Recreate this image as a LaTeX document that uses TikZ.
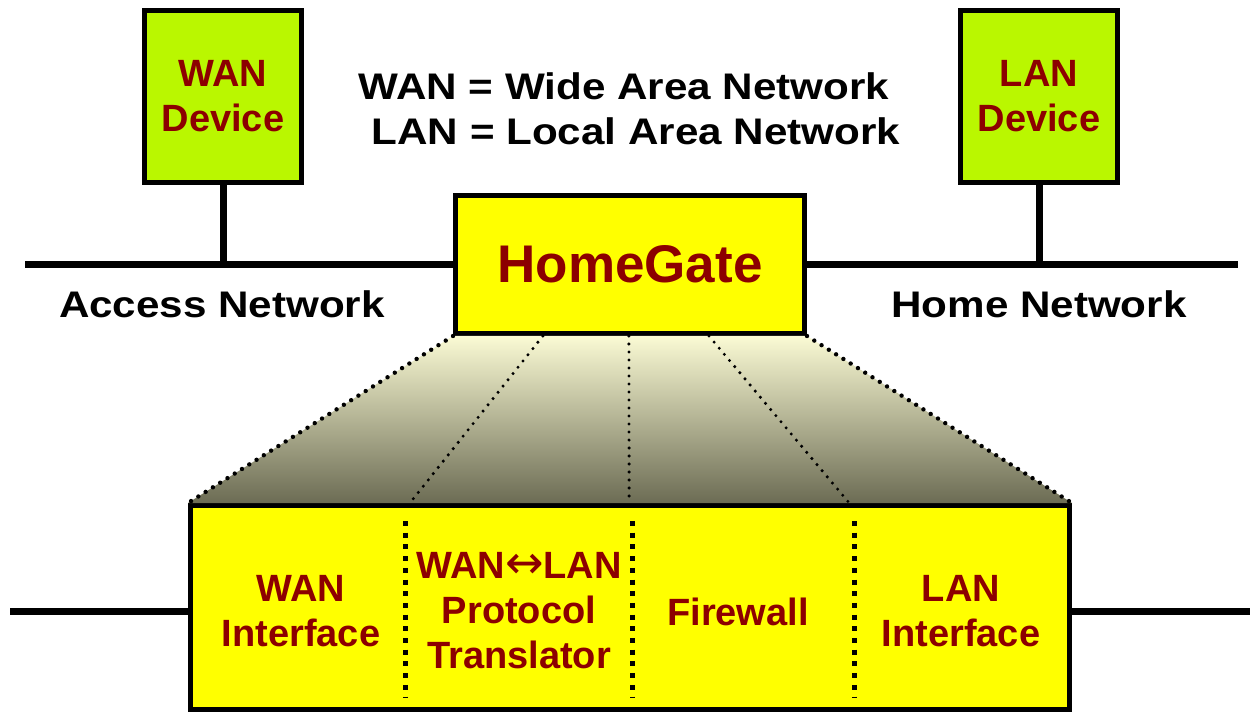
\documentclass[tikz,border=0pt]{standalone}
\usepackage{fontspec}
\setmainfont{Liberation Sans}
\newfontfamily\widesans{Liberation Sans}[FakeStretch=1.14]
\newfontfamily\arrowfont{DejaVu Sans}
\usetikzlibrary{calc}
\definecolor{devlime}{RGB}{186,247,0}
\definecolor{gateyellow}{RGB}{255,255,0}
\definecolor{labelred}{RGB}{140,0,0}
\definecolor{fantop}{RGB}{250,250,212}
\definecolor{fanbottom}{RGB}{108,108,84}
\begin{document}
\begin{tikzpicture}[x=1pt,y=-1pt,
  box/.style={draw=black, line width=5pt, inner sep=0pt},
  bigfont/.style={font=\fontsize{38}{45}\selectfont\bfseries},
  devbox/.style={box, fill=devlime, minimum width=157pt, minimum height=172pt,
    bigfont, text=labelred, align=center},
  wire/.style={line width=7pt},
  fanedge/.style={line width=4.4pt, line cap=round, dash pattern=on 0pt off 8.6pt},
  fanline/.style={line width=3.4pt, line cap=round, dash pattern=on 0pt off 8pt},
  divider/.style={line width=5pt, dash pattern=on 5pt off 6.7pt},
  caption/.style={font=\fontsize{37}{45}\selectfont\widesans\bfseries, text=black,
    inner sep=0pt, anchor=base},
  part/.style={bigfont, text=labelred, inner sep=0pt, align=center}]
\useasboundingbox (0,0) rectangle (1254,714);

% devices and the gateway
\node[devbox] (wan) at (223,96.5) {WAN\\Device};
\node[devbox] (lan) at (1039,96.5) {LAN\\Device};
\node[box, fill=gateyellow, minimum width=349pt, minimum height=138pt,
  font=\fontsize{53}{60}\selectfont\bfseries, text=labelred] (hg) at (630,264.5) {HomeGate};
\node[box, fill=gateyellow, minimum width=879pt, minimum height=204pt] (mod) at (630,607.5) {};

% network wires
\coordinate (accEnd) at (25,265);
\coordinate (homeEnd) at (1238,265);
\coordinate (inL) at (10,611);
\coordinate (inR) at (1250,611);
\draw[wire] (accEnd) -- (accEnd -| hg.west);
\draw[wire] (hg.east |- homeEnd) -- (homeEnd);
\draw[wire] (wan.south) -- (wan.south |- accEnd);
\draw[wire] (lan.south) -- (lan.south |- homeEnd);
\draw[wire] (inL) -- (inL -| mod.west);
\draw[wire] (mod.east |- inR) -- (inR);

% exploded view of the gateway
\shade[top color=fantop, bottom color=fanbottom]
  (hg.south west) -- (hg.south east) -- (mod.north east) -- (mod.north west) -- cycle;
\coordinate (t1) at ($(hg.south west)!0.254!(hg.south east)$);
\coordinate (t2) at ($(hg.south west)!0.497!(hg.south east)$);
\coordinate (t3) at ($(hg.south west)!0.723!(hg.south east)$);
\coordinate (b1) at ($(mod.north west)!0.251!(mod.north east)$);
\coordinate (b2) at ($(mod.north west)!0.499!(mod.north east)$);
\coordinate (b3) at ($(mod.north west)!0.748!(mod.north east)$);
\draw[fanedge] (hg.south west) -- (mod.north west);
\draw[fanedge] (hg.south east) -- (mod.north east);
\draw[fanline] (t1) -- (b1);
\draw[fanline] (t2) -- (b2);
\draw[fanline] (t3) -- (b3);

% module dividers
\draw[divider] (405,521) -- (405,697);
\draw[divider] (632,521) -- (632,697);
\draw[divider] (854,521) -- (854,697);

% texts
\node[caption] (defWan) at (624,100) {WAN = Wide Area Network};
\node[caption] (defLan) at (636,145) {LAN = Local Area Network};
\node[caption] (access) at (222,317) {Access Network};
\node[caption] (home) at (1039,317) {Home Network};

\node[part] (pWan) at (301,611.5) {WAN\\Interface};
\node[part] (pProto) at (519,611)
  {WAN{\arrowfont\mdseries\fontsize{46}{45}\selectfont ↔}LAN\\Protocol\\Translator};
\node[part] (pFw) at (738,611.5) {Firewall};
\node[part] (pLan) at (961,611.5) {LAN\\Interface};
\end{tikzpicture}
\end{document}
